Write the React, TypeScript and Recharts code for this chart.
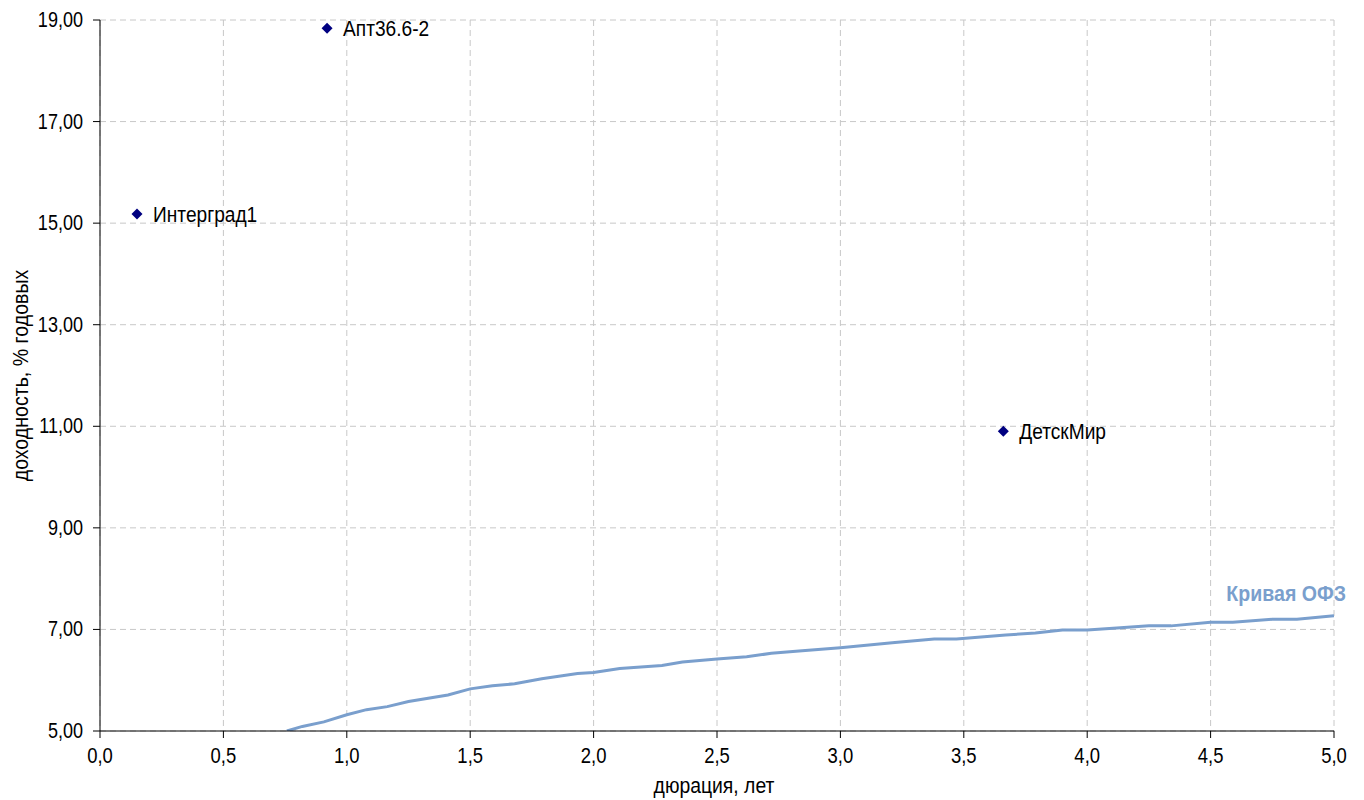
import {
  ComposedChart,
  Line,
  Scatter,
  XAxis,
  YAxis,
  CartesianGrid,
  LabelList,
  ReferenceDot,
} from "recharts";

// bonds: duration (years), yield (% p.a.)
const bondNames = ["Интерград1", "Апт36.6-2", "ДетскМир"];
const bondDuration = [0.15, 0.92, 3.66];
const bondYield = [15.18, 18.84, 10.9];

// OFZ curve
const ofzDuration = [
  0.757, 0.82, 0.907, 1.0, 1.08, 1.164, 1.25, 1.41, 1.5, 1.59, 1.68, 1.79,
  1.935, 2.0, 2.106, 2.277, 2.36, 2.5, 2.62, 2.72, 2.845, 3.0, 3.21, 3.38,
  3.47, 3.67, 3.79, 3.9, 4.0, 4.12, 4.25, 4.34, 4.5, 4.59, 4.75, 4.85, 5.0,
];
const ofzYield = [
  5.0, 5.09, 5.18, 5.32, 5.42, 5.48, 5.58, 5.71, 5.83, 5.89, 5.93, 6.03, 6.13,
  6.15, 6.23, 6.29, 6.36, 6.42, 6.46, 6.53, 6.58, 6.64, 6.74, 6.81, 6.81, 6.89,
  6.93, 6.99, 6.99, 7.03, 7.07, 7.07, 7.14, 7.14, 7.2, 7.2, 7.27,
];

const xTicks = [0, 0.5, 1, 1.5, 2, 2.5, 3, 3.5, 4, 4.5, 5];
const yTicks = [5, 7, 9, 11, 13, 15, 17, 19];

const bonds = bondNames.map((name, i) => ({
  name,
  x: bondDuration[i],
  y: bondYield[i],
}));
const ofz = ofzDuration.map((x, i) => ({ x, y: ofzYield[i] }));

const FONT = "'Liberation Sans', Arial, sans-serif";
const FS = 22;
const CURVE = "#7a9fcd";

// narrow text: the original uses a condensed Arial-like face
const NText = ({ x, y, sx = 0.86, rot = 0, anchor = "start", children, ...rest }: any) => (
  <text
    transform={`translate(${x},${y}) rotate(${rot}) scale(${sx},1)`}
    textAnchor={anchor}
    fontSize={FS}
    fontFamily={FONT}
    fill="#000"
    {...rest}
  >
    {children}
  </text>
);

const XTick = (props: any) => {
  const { x, y, payload } = props;
  return (
    <NText x={x} y={y + 25} sx={0.84} anchor="middle">
      {payload.value.toFixed(1).replace(".", ",")}
    </NText>
  );
};

const YTick = (props: any) => {
  const { x, y, payload } = props;
  return (
    <NText x={x} y={y + 7} sx={0.82} anchor="end">
      {payload.value.toFixed(2).replace(".", ",")}
    </NText>
  );
};

const Diamond = (props: any) => {
  const { cx, cy } = props;
  const r = 5.5;
  return (
    <path
      d={`M${cx},${cy - r}L${cx + r},${cy}L${cx},${cy + r}L${cx - r},${cy}Z`}
      fill="#000080"
    />
  );
};

const BondLabel = (props: any) => {
  const { x, y, width, height, value } = props;
  return (
    <NText x={x + width / 2 + 16} y={y + height / 2 + 8} sx={0.87}>
      {value}
    </NText>
  );
};

const CurveLabel = (props: any) => {
  const { viewBox } = props;
  return (
    <NText
      x={viewBox.x + 12}
      y={viewBox.y - 15}
      sx={0.89}
      anchor="end"
      fontWeight="bold"
      fill={CURVE}
    >
      Кривая ОФЗ
    </NText>
  );
};

const XTitle = (props: any) => {
  const { viewBox } = props;
  return (
    <NText x={viewBox.x + viewBox.width / 2 - 3} y={793} sx={0.88} anchor="middle">
      дюрация, лет
    </NText>
  );
};

const YTitle = (props: any) => {
  const { viewBox } = props;
  return (
    <NText x={28} y={viewBox.y + viewBox.height / 2} sx={0.89} rot={-90} anchor="middle">
      доходность, % годовых
    </NText>
  );
};

export default function App() {
  return (
    <div style={{ position: "absolute", left: 0, top: 0, background: "#fff" }}>
      <ComposedChart
        width={1364}
        height={800}
        margin={{ top: 20, right: 30, left: 0, bottom: 0 }}
        style={{ fontFamily: FONT }}
      >
        <CartesianGrid stroke="#c8c8c8" strokeDasharray="6 4" />
        <XAxis
          type="number"
          dataKey="x"
          domain={[0, 5]}
          ticks={xTicks}
          height={69}
          stroke="#000"
          tick={<XTick />}
          tickSize={7}
          tickMargin={0}
          allowDataOverflow
          label={<XTitle />}
        />
        <YAxis
          type="number"
          dataKey="y"
          domain={[5, 19]}
          ticks={yTicks}
          width={100}
          stroke="#000"
          tick={<YTick />}
          tickSize={7}
          tickMargin={10}
          allowDataOverflow
          label={<YTitle />}
        />
        <Line
          data={ofz}
          dataKey="y"
          type="linear"
          stroke={CURVE}
          strokeWidth={3}
          dot={false}
          isAnimationActive={false}
        />
        <Scatter
          data={bonds}
          dataKey="y"
          shape={<Diamond />}
          isAnimationActive={false}
        >
          <LabelList dataKey="name" content={<BondLabel />} />
        </Scatter>
        <ReferenceDot
          x={5}
          y={7.27}
          r={0}
          stroke="none"
          fill="none"
          label={<CurveLabel />}
        />
      </ComposedChart>
    </div>
  );
}
